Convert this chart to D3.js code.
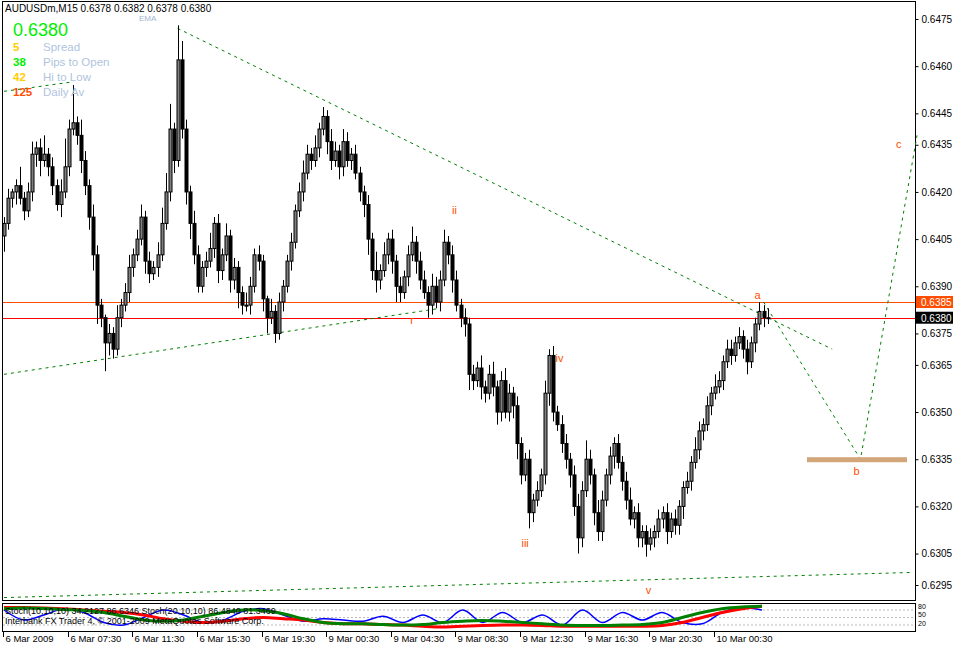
<!DOCTYPE html>
<html><head><meta charset="utf-8">
<script src="https://cdn.jsdelivr.net/npm/d3@7"></script>
<style>body{margin:0;background:#fff}svg{display:block}text{font-family:"Liberation Sans",Arial,sans-serif}</style>
</head><body><svg id="c" width="953" height="646"></svg>
<script>
// closes in pips (0.6xxx)
const closes=[6410,6418,6420,6422,6418,6414,6420,6432,6434,6430,
6432,6428,6422,6416,6420,6428,6440,6442,6438,6430,
6422,6412,6400,6384,6380,6372,6375,6370,6380,6384,
6388,6396,6400,6405,6412,6398,6394,6396,6400,6410,
6420,6440,6430,6462,6440,6420,6410,6400,6390,6396,
6398,6402,6410,6395,6400,6406,6392,6396,6388,6384,
6384,6390,6400,6398,6386,6380,6382,6375,6385,6390,
6398,6404,6414,6420,6426,6432,6430,6434,6440,6444,
6436,6430,6433,6428,6436,6430,6432,6426,6420,6416,
6405,6395,6392,6395,6400,6405,6398,6390,6388,6393,
6400,6404,6398,6392,6388,6384,6390,6385,6392,6404,
6400,6392,6384,6380,6378,6362,6360,6364,6358,6356,
6362,6358,6350,6360,6350,6356,6352,6340,6330,6335,
6318,6322,6325,6330,6356,6368,6350,6346,6340,6335,
6330,6320,6310,6325,6335,6330,6318,6312,6322,6330,
6336,6340,6334,6328,6322,6316,6318,6310,6312,6308,
6310,6312,6316,6318,6312,6316,6314,6320,6326,6328,
6334,6338,6344,6346,6352,6356,6358,6360,6366,6370,
6368,6372,6374,6370,6366,6372,6378,6382,6380,6380];
const hiExt=[2,3,1,2,6,2,3,4,2,3, 6,2,3,2,4,9,3,12,2,5, 3,2,4,3,2,1,3,2,4,2, 3,4,2,3,4,2,3,2,4,5,
 6,8,2,11,6,3,2,4,3,2, 3,5,2,3,2,4,2,3,2,2, 4,3,2,3,2,1,4,2,3,2, 2,3,2,3,4,3,2,4,2,3,
 2,4,3,2,4,3,2,3,2,2, 3,2,6,2,4,2,3,2,3,2, 3,5,2,3,3,2,4,3,3,4, 2,3,3,2,3,2,3,2,4,2,
 3,4,2,3,4,3,2,3,2,2, 3,2,3,2,4,2,3,2,3,3, 2,3,4,3,6,3,2,4,3,2, 3,2,3,2,3,4,2,3,2,2,
 3,2,3,2,3,2,3,2,2,3, 2,4,3,2,3,2,4,3,2,3, 3,2,3,2,3,2,2,3,2,3];
const loExt=[5,2,3,4,2,3,2,3,4,5, 2,3,3,2,4,2,3,2,3,4, 3,4,5,6,3,9,4,3,2,3, 2,3,3,2,2,4,3,2,3,2,
 2,3,4,2,3,4,5,3,2,2, 3,2,3,4,3,2,4,3,5,3, 2,3,2,3,4,5,2,3,2,3, 2,3,2,2,3,2,3,2,3,2,
 4,3,2,4,3,2,3,2,3,4, 5,3,4,3,2,3,4,5,3,2, 3,2,4,3,2,4,3,2,3,2, 3,4,2,3,4,5,3,2,4,3,
 2,3,4,3,2,3,4,5,3,2, 5,3,2,2,3,4,3,2,3,3, 4,3,5,3,2,3,4,3,3,2, 3,4,2,3,3,2,3,3,3,4,
 2,3,2,3,4,2,3,3,4,2, 3,2,3,3,2,3,2,2,3,2, 3,2,2,3,4,2,3,2,3,2, 3,2,3,2,3,2,3,2,3,2];
const priceTicks=[0.6475,0.6460,0.6445,0.6435,0.6420,0.6405,0.6390,0.6375,0.6365,0.6350,0.6335,0.6320,0.6305,0.6295];
const timeLabels=["6 Mar 2009","6 Mar 07:30","6 Mar 11:30","6 Mar 15:30","6 Mar 19:30","9 Mar 00:30","9 Mar 04:30","9 Mar 08:30","9 Mar 12:30","9 Mar 16:30","9 Mar 20:30","10 Mar 00:30"];
const stochBlue=[80,40,60,85,70,30,20,50,80,60,30,40,75,85,60,35,45,40,35,55,30,60,30,80,30,70,30,60,20,80,30,70,40,70,30,25,70,90,80];
const stochRed=[90,90,88,85,80,75,70,60,45,35,30,35,45,50,45,40,30,25,25,22,20,15,12,15,18,20,20,18,15,15,15,15,15,18,30,50,70,85,95];
const stochGreen=[85,88,86,82,78,70,55,40,35,40,55,70,80,78,65,45,30,25,25,22,20,22,30,35,38,35,30,25,20,18,18,20,22,30,50,70,85,92,95];
const waveLabels=[["ii",0.6413,111.5],["r",0.6378,101],["iv",0.6366,137.5],["iii",0.6307,129],["v",0.6292,159.5],["a",0.6386,186.5],["b",0.6330,211],["c",0.6434,221.5]];

const svg=d3.select("#c");
const x=d3.scaleLinear().domain([0,189]).range([4,4+189*4.04]);
const y=d3.scaleLinear().domain([0.6295,0.6475]).range([585,19]);
const P=v=>v/10000;
const data=closes.map((c,i)=>{const o=i?closes[i-1]:6406;return{i,o:P(o),c:P(c),h:P(Math.max(o,c)+hiExt[i]),l:P(Math.min(o,c)-loExt[i])}});

svg.append("rect").attr("x",2.5).attr("y",1.5).attr("width",913).attr("height",599).attr("fill","none").attr("stroke","#000");
svg.append("rect").attr("x",2.5).attr("y",603.5).attr("width",913).attr("height",28).attr("fill","none").attr("stroke","#000");

const ax=svg.append("g").attr("transform","translate(915.5,0)");
ax.call(d3.axisRight(y).tickValues(priceTicks).tickSize(3).tickFormat(d3.format(".4f")));
ax.select(".domain").remove();
ax.selectAll("text").attr("font-size",10).attr("fill","#000").attr("x",6);

const hl=[[0.6385,"#ff4d00"],[0.6380,"#ff0000"]];
hl.forEach(([v,c])=>svg.append("line").attr("x1",3).attr("x2",915).attr("y1",Math.round(y(v))+.5).attr("y2",Math.round(y(v))+.5).attr("stroke",c));
[[0.6385,"#ff4d00"],[0.6380,"#000"]].forEach(([v,c])=>{svg.append("rect").attr("x",916).attr("y",y(v)-6).attr("width",37).attr("height",12).attr("fill",c);
 svg.append("text").attr("x",921).attr("y",y(v)+4).attr("font-size",10).attr("fill","#fff").text(v.toFixed(4));});

const tl=[[[43,0.6472],[205,0.6370]],[[0,0.6362],[108,0.6383]],[[0,0.6291],[225,0.6299]],[[0,0.6452],[17,0.6455]],[[188,0.6385],[212,0.6335],[226,0.6438]]];
const line=d3.line().x(d=>x(d[0])).y(d=>y(d[1]));
tl.forEach(p=>svg.append("path").attr("d",line(p)).attr("fill","none").attr("stroke","#008000").attr("stroke-dasharray","3,4"));
svg.append("rect").attr("x",807).attr("y",y(0.6335)-2).attr("width",100).attr("height",5).attr("fill","#d2a679");

const g=svg.append("g");
data.forEach(d=>{const cx=Math.round(x(d.i))+.5;
 g.append("line").attr("x1",cx).attr("x2",cx).attr("y1",y(d.h)).attr("y2",y(d.l)).attr("stroke","#000");
 const t=Math.min(y(d.o),y(d.c)),b=Math.max(y(d.o),y(d.c));
 g.append("rect").attr("x",cx-1.5).attr("y",t).attr("width",3).attr("height",Math.max(b-t,1)).attr("fill",d.c>d.o?"#808080":"#000").attr("stroke","#000").attr("stroke-width",1);
});

waveLabels.forEach(([t,v,i])=>svg.append("text").attr("x",x(i)).attr("y",y(v)).attr("font-size",11).attr("fill","#ff4d00").attr("text-anchor","middle").text(t));

svg.append("text").attr("x",5).attr("y",12).attr("font-size",10).text("AUDUSDm,M15  0.6378 0.6382 0.6378 0.6380");
svg.append("text").attr("x",139).attr("y",21).attr("font-size",8).attr("fill","#a0b4d0").text("EMA");
svg.append("text").attr("x",13).attr("y",36).attr("font-size",18).attr("fill","#00ee00").text("0.6380");
[["5","#ffcc00","Spread"],["38","#00ee00","Pips to Open"],["42","#ffcc00","Hi to Low"],["125","#ff4d00","Daily Av"]].forEach(([n,c,l],k)=>{
 svg.append("text").attr("x",13).attr("y",51+k*15).attr("font-size",11.5).attr("font-weight","bold").attr("fill",c).text(n);
 svg.append("text").attr("x",43).attr("y",51+k*15).attr("font-size",11.5).attr("fill","#b0c4de").text(l);});

const yi=d3.scaleLinear().domain([0,100]).range([630,605]);
const xi=d3.scaleLinear().domain([0,38]).range([4,762]);
[80,50,20].forEach(v=>svg.append("line").attr("x1",3).attr("x2",915).attr("y1",yi(v)).attr("y2",yi(v)).attr("stroke","#bbb").attr("stroke-dasharray","2,2"));
[[80,609],[50,617],[20,626]].forEach(([v,yy])=>svg.append("text").attr("x",918).attr("y",yy).attr("font-size",7).text(v));
const li=d3.line().x((d,i)=>xi(i)).y(d=>yi(d)).curve(d3.curveCatmullRom);
svg.append("path").attr("d",li(stochBlue)).attr("fill","none").attr("stroke","#0000ff").attr("stroke-width",1.5);
svg.append("path").attr("d",li(stochRed)).attr("fill","none").attr("stroke","#ff0000").attr("stroke-width",3);
svg.append("path").attr("d",li(stochGreen)).attr("fill","none").attr("stroke","#008000").attr("stroke-width",3);
svg.append("text").attr("x",5).attr("y",614).attr("font-size",9).text("Stoch(10,10,10) 34.2127 86.6346  Stoch(20,10,10) 86.4840 81.3469");
svg.append("text").attr("x",5).attr("y",624).attr("font-size",9).text("Interbank FX Trader 4, © 2001-2009 MetaQuotes Software Corp.");

timeLabels.forEach((t,k)=>{const xx=Math.round(x(k*16))-0.5;
 svg.append("line").attr("x1",xx).attr("x2",xx).attr("y1",632).attr("y2",637).attr("stroke","#000");
 svg.append("text").attr("x",xx+2).attr("y",642).attr("font-size",9.5).text(t);});
</script></body></html>
